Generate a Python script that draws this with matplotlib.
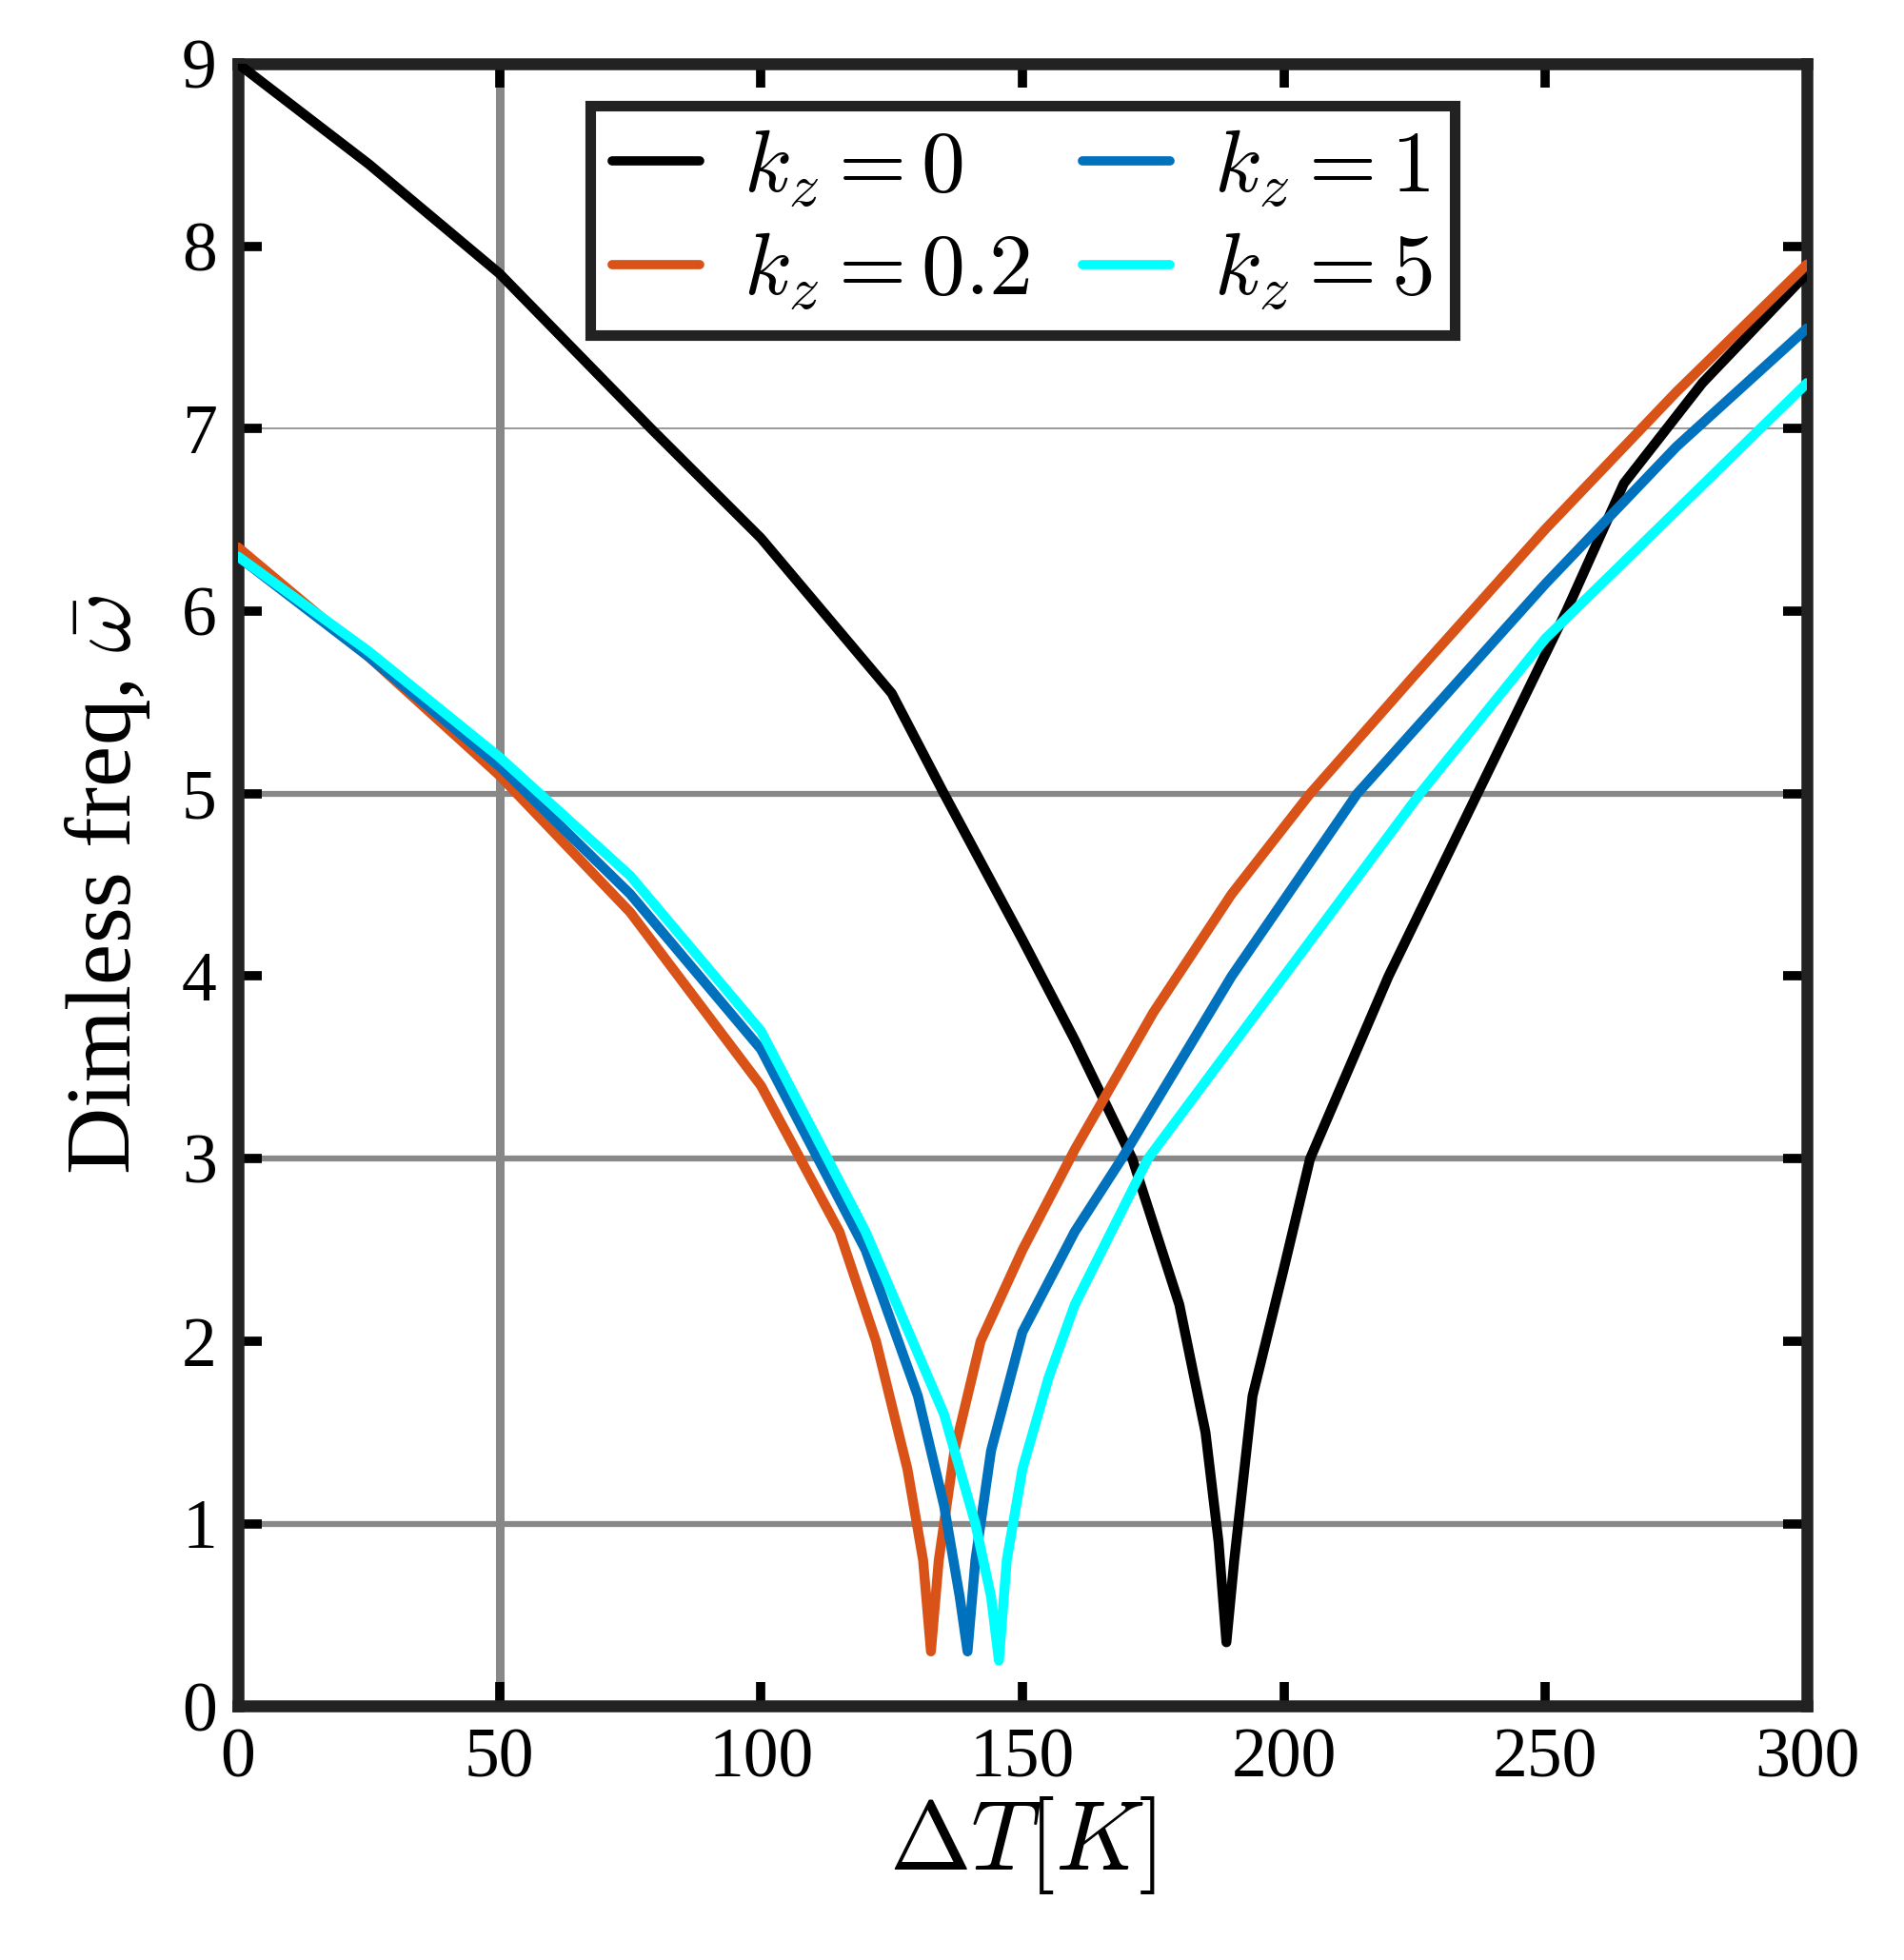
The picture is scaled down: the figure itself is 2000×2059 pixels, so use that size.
import matplotlib
matplotlib.use("Agg")
import matplotlib.pyplot as plt

# ---------------------------------------------------------------------------
# Data
# ---------------------------------------------------------------------------
DT_K0 = [0, 25, 50, 79, 100, 125, 135, 150, 160, 171, 180, 185, 187.5, 189, 190.5, 194, 200, 205,
         220, 237, 254, 265, 280, 300]
W_K0 = [9.0, 8.45, 7.85, 7.0, 6.4, 5.55, 5.0, 4.2, 3.65, 3.0, 2.2, 1.5, 0.9, 0.35, 0.8, 1.7, 2.4, 3.0,
        4.0, 5.0, 6.0, 6.7, 7.25, 7.85]

DT_K02 = [0, 25, 50, 75, 100, 115, 122, 128, 131, 132.5, 134, 137, 142, 150, 160, 175, 190,
          205, 225, 250, 275, 300]
W_K02 = [6.35, 5.75, 5.1, 4.35, 3.4, 2.6, 2.0, 1.3, 0.8, 0.3, 0.8, 1.4, 2.0, 2.5, 3.05, 3.8, 4.45,
         5.0, 5.65, 6.45, 7.2, 7.9]

DT_K1 = [0, 25, 50, 75, 100, 120, 130, 135, 138, 139.5, 141, 144, 150, 160, 169, 190, 214, 250, 275, 300]
W_K1 = [6.3, 5.75, 5.15, 4.45, 3.6, 2.5, 1.7, 1.1, 0.6, 0.3, 0.8, 1.4, 2.05, 2.6, 3.0, 4.0, 5.0, 6.15, 6.9, 7.55]

DT_K5 = [0, 25, 50, 75, 100, 120, 135, 141, 144, 145.5, 147, 150, 155, 160, 174, 200, 226, 250, 275, 300]
W_K5 = [6.3, 5.78, 5.2, 4.55, 3.7, 2.6, 1.6, 1.0, 0.6, 0.25, 0.8, 1.3, 1.8, 2.2, 3.0, 4.0, 5.0, 5.85, 6.55, 7.25]

SERIES = [
    (DT_K0, W_K0, "black", r"$k_z = 0$"),
    (DT_K02, W_K02, "#D95319", r"$k_z = 0.2$"),
    (DT_K1, W_K1, "#0072BD", r"$k_z = 1$"),
    (DT_K5, W_K5, "#00FFFF", r"$k_z = 5$"),
]

XTICKS = [0, 50, 100, 150, 200, 250, 300]
YTICKS = list(range(10))

# ---------------------------------------------------------------------------
# Plot
# ---------------------------------------------------------------------------
plt.rcParams["font.family"] = ["Liberation Serif", "DejaVu Serif"]
plt.rcParams["mathtext.fontset"] = "cm"

fig = plt.figure(figsize=(20, 20.59), dpi=100)
ax = fig.add_axes([0.125, 0.1295, 0.824, 0.838])

# grid lines as in the reference
for y in (1, 3, 5):
    ax.axhline(y, color="#888888", linewidth=4.5, zorder=1)
ax.axhline(7, color="#888888", linewidth=1.2, zorder=1)
ax.axvline(50, color="#888888", linewidth=6.5, zorder=1)

for x, y, c, lab in SERIES:
    ax.plot(x, y, color=c, linewidth=7.5, label=lab, zorder=3,
            solid_joinstyle="round", solid_capstyle="round")

ax.set_xlim(0, 300)
ax.set_ylim(0, 9)
ax.set_xticks(XTICKS)
ax.set_yticks(YTICKS)
ax.tick_params(direction="in", length=18, width=7, labelsize=53,
               top=True, right=True, pad=16)
for s in ax.spines.values():
    s.set_linewidth(9)
    s.set_color("#222222")

ax.set_xlabel(r"$\Delta T[K]$", fontsize=74, labelpad=2)
ax.set_ylabel(r"Dimless freq, $\bar{\omega}$", fontsize=70, labelpad=22)

leg = ax.legend(ncol=2, loc="upper center", bbox_to_anchor=(0.5, 0.985),
                fontsize=66, frameon=True, fancybox=False, handlelength=1.0,
                columnspacing=0.6, handletextpad=0.5, borderpad=0.25,
                labelspacing=0.25, borderaxespad=0.2)
leg.get_frame().set_edgecolor("#222222")
leg.get_frame().set_linewidth(8)
leg.get_frame().set_alpha(1)
for line in leg.get_lines():
    line.set_linewidth(7)

fig.savefig("out.png", dpi=100)
